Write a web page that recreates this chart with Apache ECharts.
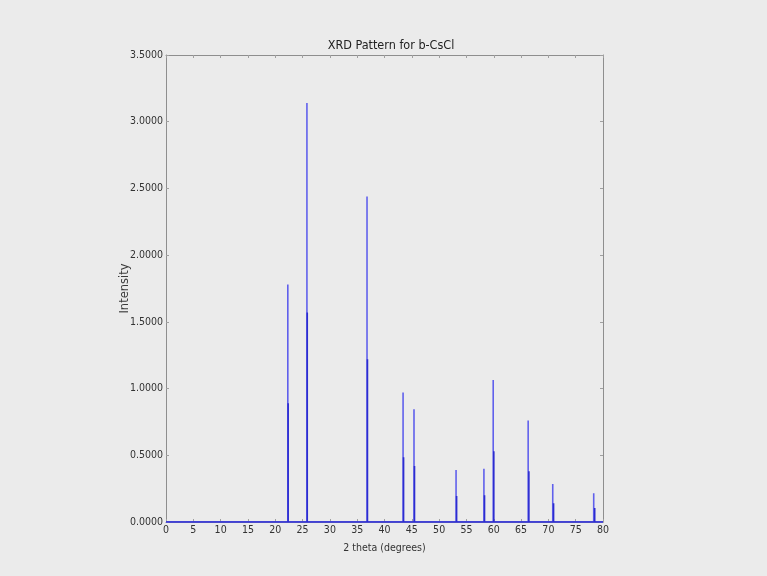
<!DOCTYPE html>
<html style="height: 100%">
<head>
    <meta charset="utf-8">
    <script src="https://cdn.jsdelivr.net/npm/echarts@6/dist/echarts.min.js"></script>
    <title>XRD Pattern for b-CsCl</title>
</head>
<body style="height: 100%; margin: 0; background: #ebebeb">
<div id="container" style="width: 767px; height: 576px"></div>
<script type="text/javascript">
// peak positions (2 theta) and intensities
let peakPos = [22.3, 25.8, 36.8, 43.4, 45.4, 53.1, 58.2, 59.9, 66.3, 70.8, 78.3];
let peakInt = [1.78, 3.14, 2.44, 0.97, 0.845, 0.39, 0.40, 1.065, 0.76, 0.285, 0.215];
// weaker companion lines (K-alpha2), about half height, slightly to the right
let ka2Pos = [22.36, 25.86, 36.88, 43.49, 45.49, 53.2, 58.31, 60.01, 66.43, 70.95, 78.48];
let ka2Int = [0.89, 1.57, 1.22, 0.485, 0.42, 0.195, 0.20, 0.53, 0.38, 0.14, 0.105];

let xTicks = [0, 80, 5];
let yTicks = [0, 3.5, 0.5];

function sticks(pos, vals) {
    let out = [[0, 0]];
    for (let i = 0; i < pos.length; i++) {
        out.push([pos[i], 0], [pos[i], vals[i]], [pos[i], 0]);
    }
    out.push([80, 0]);
    return out;
}

let font = '"DejaVu Sans Condensed", "Liberation Sans Narrow", sans-serif';
let frame = '#8e8e8e';
let line = {show: true, onZero: false, lineStyle: {color: frame, width: 1}};
let tick = {show: true, inside: true, length: 3, lineStyle: {color: '#a0a0a0'}};

let chart = echarts.init(document.getElementById('container'));
chart.setOption({
    backgroundColor: '#ebebeb',
    animation: false,
    title: {
        text: 'XRD Pattern for b-CsCl',
        left: 386, top: 34, textAlign: 'center',
        textStyle: {fontFamily: font, fontSize: 12.5, fontWeight: 'normal', color: '#222'}
    },
    grid: {left: 166, right: 164, top: 55, bottom: 54},
    xAxis: [{
        type: 'value', min: xTicks[0], max: xTicks[1], interval: xTicks[2],
        name: '2 theta (degrees)', nameLocation: 'middle', nameGap: 21,
        nameTextStyle: {fontFamily: font, fontSize: 10.5, color: '#333'},
        axisLine: line, axisTick: tick,
        axisLabel: {fontFamily: font, fontSize: 10.5, color: '#333', margin: 3},
        splitLine: {show: false}
    }, {
        type: 'value', position: 'top', min: xTicks[0], max: xTicks[1], interval: xTicks[2],
        axisLine: line, axisTick: tick,
        axisLabel: {show: false}, splitLine: {show: false}
    }],
    yAxis: [{
        type: 'value', min: yTicks[0], max: yTicks[1], interval: yTicks[2],
        name: 'Intensity', nameLocation: 'middle', nameGap: 35, nameMoveOverlap: false,
        nameTextStyle: {fontFamily: 'DejaVu Sans', fontSize: 11.5, color: '#3a3a3a'},
        axisLine: line, axisTick: tick,
        axisLabel: {fontFamily: font, fontSize: 10.5, color: '#333', margin: 3,
            formatter: v => v.toFixed(4)},
        splitLine: {show: false}
    }, {
        type: 'value', position: 'right', min: yTicks[0], max: yTicks[1], interval: yTicks[2],
        axisLine: line, axisTick: tick,
        axisLabel: {show: false}, splitLine: {show: false}
    }],
    series: [{
        type: 'line', data: sticks(peakPos, peakInt), showSymbol: false,
        lineStyle: {color: '#6060ec', width: 1.6}, z: 2
    }, {
        type: 'line', data: sticks(ka2Pos, ka2Int), showSymbol: false,
        lineStyle: {color: '#2c2cd0', width: 1.6}, z: 3
    }]
});
</script>
</body>
</html>
